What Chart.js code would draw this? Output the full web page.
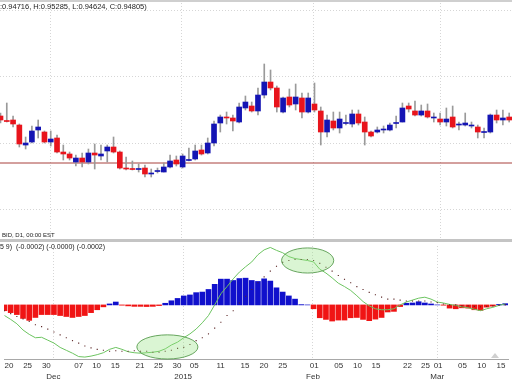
<!DOCTYPE html>
<html>
<head>
<meta charset="utf-8">
<script src="https://cdn.jsdelivr.net/npm/chart.js@4.4.1/dist/chart.umd.min.js"></script>
<style>
    body { margin: 0; background: #fff; }
    #wrap { position: relative; width: 512px; height: 380px; overflow: hidden; font-family: "Liberation Sans", Arial, sans-serif; color: #222; }
    canvas { position: absolute; left: 0; }
    #price-canvas { top: 0; }
    #macd-canvas { top: 242px; }
    .lbl { position: absolute; white-space: pre; line-height: 1; }
    #top-rule { position: absolute; left: 0; top: 0; width: 512px; height: 2px; background: #cfcfcf; }
    #split { position: absolute; left: 0; top: 239px; width: 512px; height: 3px; background: #c4c4c4; }
    #marker { position: absolute; left: 491px; top: 353px; width: 0; height: 0; border-left: 4px solid transparent; border-right: 4px solid transparent; border-bottom: 5px solid #d0d0d0; }
</style>
</head>
<body>
<div id="wrap">
    <canvas id="price-canvas" width="512" height="240"></canvas>
    <canvas id="macd-canvas" width="512" height="138"></canvas>
    <div id="top-rule"></div>
    <div id="split"></div>
    <div id="marker"></div>
    <div class="lbl" style="left:0;top:3px;font-size:7.5px;">:0.94716, H:0.95285, L:0.94624, C:0.94805)</div>
    <div class="lbl" style="left:2px;top:232px;font-size:6px;">BID, D1, 00:00 EST</div>
    <div class="lbl" style="left:0;top:243px;font-size:7px;">5 9)  (-0.0002) (-0.0000) (-0.0002)</div>
</div>
<script>
// daily candles, one per trading day (bar index 0..81)
const opens = [
    0.94818, 0.94682, 0.94697, 0.94545, 0.93939, 0.94030, 0.94394, 0.94333, 0.94030, 0.94152,
    0.93727, 0.93667, 0.93424, 0.93545, 0.93424, 0.93697, 0.93606, 0.93758, 0.93879, 0.93727,
    0.93227, 0.93212, 0.93197, 0.93242, 0.93061, 0.93136, 0.93121, 0.93273, 0.93485, 0.93273,
    0.93470, 0.93515, 0.93788, 0.93697, 0.94000, 0.94606, 0.94788, 0.94758, 0.94636, 0.95061,
    0.95121, 0.94970, 0.95454, 0.95848, 0.95667, 0.94939, 0.95394, 0.95182, 0.95364, 0.94939,
    0.95182, 0.94970, 0.94333, 0.94667, 0.94455, 0.94591, 0.94576, 0.94879, 0.94636, 0.94333,
    0.94333, 0.94394, 0.94394, 0.94591, 0.94636, 0.95121, 0.94970, 0.94848, 0.94970, 0.94758,
    0.94727, 0.94636, 0.94788, 0.94545, 0.94545, 0.94515, 0.94485, 0.94318, 0.94333, 0.94848,
    0.94697, 0.94788
];
const closes = [
    0.94697, 0.94651, 0.94576, 0.93970, 0.94000, 0.94364, 0.94485, 0.94030, 0.94121, 0.93727,
    0.93667, 0.93545, 0.93545, 0.93424, 0.93697, 0.93636, 0.93667, 0.93879, 0.93727, 0.93242,
    0.93212, 0.93197, 0.93227, 0.93061, 0.93091, 0.93152, 0.93273, 0.93455, 0.93364, 0.93606,
    0.93485, 0.93758, 0.93667, 0.94000, 0.94576, 0.94788, 0.94758, 0.94667, 0.95091, 0.95242,
    0.94970, 0.95454, 0.95848, 0.95667, 0.95091, 0.95364, 0.95151, 0.95394, 0.94939, 0.95364,
    0.95000, 0.94333, 0.94697, 0.94455, 0.94727, 0.94606, 0.94879, 0.94606, 0.94333, 0.94212,
    0.94394, 0.94409, 0.94545, 0.94606, 0.95061, 0.95030, 0.94848, 0.94970, 0.94788, 0.94773,
    0.94636, 0.94727, 0.94485, 0.94560, 0.94606, 0.94530, 0.94333, 0.94333, 0.94848, 0.94697,
    0.94758, 0.94697
];
const highs = [
    0.94909, 0.95212, 0.94818, 0.94576, 0.94182, 0.94515, 0.94697, 0.94364, 0.94364, 0.94242,
    0.93939, 0.93727, 0.93636, 0.93697, 0.93818, 0.93970, 0.93939, 0.93939, 0.94182, 0.93758,
    0.93576, 0.93455, 0.93364, 0.93333, 0.93212, 0.93242, 0.93394, 0.93636, 0.93606, 0.93667,
    0.93848, 0.93939, 0.93939, 0.94152, 0.94667, 0.94848, 0.94939, 0.94848, 0.95212, 0.95424,
    0.95242, 0.95667, 0.96394, 0.96212, 0.95727, 0.95394, 0.95636, 0.95788, 0.95515, 0.95515,
    0.95818, 0.95091, 0.94848, 0.94939, 0.94939, 0.94848, 0.95000, 0.95000, 0.94788, 0.94364,
    0.94485, 0.94515, 0.94606, 0.94818, 0.95212, 0.95212, 0.95273, 0.95151, 0.95182, 0.94909,
    0.94909, 0.95061, 0.95121, 0.94636, 0.94909, 0.94636, 0.94545, 0.94455, 0.94879, 0.95000,
    0.95000, 0.94909
];
const lows = [
    0.94606, 0.94636, 0.94485, 0.93879, 0.93818, 0.94000, 0.94152, 0.94000, 0.93909, 0.93697,
    0.93485, 0.93485, 0.93303, 0.93273, 0.93364, 0.93212, 0.93485, 0.93424, 0.93697, 0.93212,
    0.93182, 0.93182, 0.93121, 0.92970, 0.92970, 0.93091, 0.93121, 0.93242, 0.93303, 0.93242,
    0.93455, 0.93485, 0.93636, 0.93667, 0.93909, 0.94333, 0.94576, 0.94364, 0.94606, 0.95000,
    0.94939, 0.94848, 0.95364, 0.95606, 0.94939, 0.94909, 0.95091, 0.95000, 0.94758, 0.94909,
    0.94939, 0.93939, 0.94182, 0.94394, 0.94303, 0.94545, 0.94485, 0.94545, 0.93939, 0.94182,
    0.94303, 0.94303, 0.94364, 0.94455, 0.94636, 0.94939, 0.94818, 0.94818, 0.94758, 0.94636,
    0.94545, 0.94515, 0.94455, 0.94394, 0.94515, 0.94455, 0.94152, 0.94152, 0.94303, 0.94606,
    0.94545, 0.94636
];
const levelPrice = 0.93394;
const priceGrid = [0.92, 0.94, 0.96, 0.98];

// MACD (12 26 9)
const macdHist = [
    -0.00060, -0.00080, -0.00100, -0.00140, -0.00160, -0.00130, -0.00100, -0.00100, -0.00100, -0.00110,
    -0.00120, -0.00130, -0.00120, -0.00110, -0.00080, -0.00050, -0.00020, 0.00010, 0.00030, -0.00003,
    -0.00010, -0.00015, -0.00015, -0.00017, -0.00015, -0.00007, 0.00017, 0.00043, 0.00067, 0.00093,
    0.00103, 0.00127, 0.00133, 0.00160, 0.00213, 0.00267, 0.00267, 0.00253, 0.00273, 0.00277,
    0.00253, 0.00243, 0.00270, 0.00247, 0.00177, 0.00133, 0.00093, 0.00060, 0.00003, 0.00000,
    -0.00040, -0.00133, -0.00150, -0.00167, -0.00157, -0.00157, -0.00133, -0.00130, -0.00150, -0.00163,
    -0.00147, -0.00130, -0.00073, -0.00067, -0.00017, 0.00017, 0.00020, 0.00033, 0.00020, 0.00010,
    0.00000, -0.00003, -0.00033, -0.00040, -0.00030, -0.00033, -0.00050, -0.00057, -0.00023, -0.00013,
    0.00005, 0.00013
];
const macdMain = [
    -0.00110, -0.00150, -0.00195, -0.00260, -0.00305, -0.00340, -0.00335, -0.00365, -0.00395, -0.00440,
    -0.00470, -0.00500, -0.00535, -0.00540, -0.00530, -0.00515, -0.00495, -0.00460, -0.00440, -0.00460,
    -0.00485, -0.00495, -0.00500, -0.00495, -0.00490, -0.00480, -0.00455, -0.00415, -0.00385, -0.00340,
    -0.00300, -0.00250, -0.00185, -0.00110, 0.00000, 0.00115, 0.00190, 0.00270, 0.00340, 0.00395,
    0.00445, 0.00520, 0.00570, 0.00595, 0.00565, 0.00540, 0.00500, 0.00480, 0.00470, 0.00460,
    0.00445, 0.00370, 0.00330, 0.00280, 0.00225, 0.00190, 0.00150, 0.00095, 0.00035, -0.00010,
    -0.00040, -0.00050, -0.00050, -0.00040, 0.00000, 0.00030, 0.00050, 0.00070, 0.00080, 0.00060,
    0.00030, 0.00020, 0.00005, -0.00005, -0.00020, -0.00030, -0.00045, -0.00060, -0.00040, -0.00025,
    -0.00005, 0.00010
];
const macdSignal = [
    -0.00060, -0.00090, -0.00120, -0.00145, -0.00170, -0.00205, -0.00225, -0.00250, -0.00280, -0.00310,
    -0.00340, -0.00370, -0.00395, -0.00425, -0.00445, -0.00460, -0.00470, -0.00480, -0.00475, -0.00480,
    -0.00480, -0.00475, -0.00480, -0.00480, -0.00490, -0.00490, -0.00480, -0.00470, -0.00450, -0.00440,
    -0.00410, -0.00370, -0.00340, -0.00300, -0.00240, -0.00180, -0.00110, -0.00060, 0.00020, 0.00090,
    0.00160, 0.00230, 0.00290, 0.00350, 0.00400, 0.00440, 0.00460, 0.00470, 0.00470, 0.00470,
    0.00460, 0.00430, 0.00390, 0.00350, 0.00305, 0.00265, 0.00230, 0.00190, 0.00160, 0.00130,
    0.00105, 0.00080, 0.00060, 0.00060, 0.00050, 0.00040, 0.00040, 0.00040, 0.00040, 0.00030,
    0.00025, 0.00010, 0.00000, 0.00000, -0.00010, -0.00010, -0.00015, -0.00020, -0.00015, -0.00010,
    -0.00005, 0.00000
];

// date axis (positions in bar-index units)
const dayTicks = [0.72, 3.74, 6.77, 12.0, 14.9, 17.9, 21.9, 24.9, 27.9, 30.7, 34.95, 38.9,
    41.96, 45.0, 50.1, 54.06, 57.1, 60.1, 65.2, 68.1, 70.14, 74.1, 77.2, 80.3];
const dayLabels = ["20", "25", "30", "07", "10", "15", "21", "25", "30", "05", "11", "15",
    "20", "25", "01", "05", "10", "15", "22", "25", "01", "05", "10", "15"];
const monthTicks = [7.9, 28.9, 49.9, 70.0];
const monthLabels = ["Dec", "2015", "Feb", "Mar"];

// circled zones on the MACD panel (centre and radii in data units)
const highlights = [
    {x: 26.35, y: -0.00435, rx: 4.94, ry: 0.00125},
    {x: 49.04, y: 0.0046, rx: 4.22, ry: 0.0013}
];

const xMin = -0.08;
const xMax = 81.45;
const bullColor = "#1414b4";
const bearColor = "#e8141c";
const gridColor = "#d6d6d6";

Chart.defaults.font.family = "'Liberation Sans', Arial, sans-serif";
Chart.defaults.color = "#333";

let idx = opens.map(function(v, i) { return i; });
let candleColors = idx.map(function(i) { return closes[i] >= opens[i] ? bullColor : bearColor; });

function fixedTicks(list) {
    return function(scale) {
        scale.ticks = list.map(function(v) { return {value: v}; });
    };
}

let highlightPlugin = {
    id: "highlights",
    afterDatasetsDraw: function(chart) {
        let ctx = chart.ctx;
        let xs = chart.scales.x;
        let ys = chart.scales.y;
        highlights.forEach(function(h) {
            let cx = xs.getPixelForValue(h.x);
            let cy = ys.getPixelForValue(h.y);
            let rx = Math.abs(xs.getPixelForValue(h.x + h.rx) - cx);
            let ry = Math.abs(ys.getPixelForValue(h.y + h.ry) - cy);
            ctx.save();
            ctx.beginPath();
            ctx.ellipse(cx, cy, rx, ry, 0, 0, Math.PI * 2);
            ctx.fillStyle = "rgba(150, 225, 130, 0.35)";
            ctx.fill();
            ctx.strokeStyle = "rgba(80, 150, 70, 0.85)";
            ctx.lineWidth = 1;
            ctx.stroke();
            ctx.restore();
        });
    }
};

// price panel
new Chart(document.getElementById("price-canvas"), {
    type: "bar",
    data: {
        datasets: [
            {
                data: idx.map(function(i) { return {x: i, y: [opens[i], closes[i]]}; }),
                backgroundColor: candleColors,
                barThickness: 5,
                minBarLength: 1,
                grouped: false,
                order: 1
            },
            {
                data: idx.map(function(i) { return {x: i, y: [lows[i], highs[i]]}; }),
                backgroundColor: "#9a9a9a",
                barThickness: 1,
                grouped: false,
                order: 2
            },
            {
                type: "line",
                data: [{x: xMin, y: levelPrice}, {x: xMax, y: levelPrice}],
                borderColor: "#a8403c",
                borderWidth: 1,
                pointRadius: 0,
                order: 3
            }
        ]
    },
    options: {
        responsive: false,
        animation: false,
        layout: {padding: 0},
        plugins: {legend: {display: false}, tooltip: {enabled: false}},
        scales: {
            x: {
                type: "linear",
                offset: false,
                min: xMin,
                max: xMax,
                afterBuildTicks: fixedTicks(monthTicks),
                ticks: {display: false},
                grid: {color: gridColor, drawTicks: false, offset: false},
                border: {display: false, dash: [1, 2]},
                afterFit: function(s) { s.height = 0; s.paddingLeft = 0; s.paddingRight = 0; }
            },
            y: {
                min: 0.91061,
                max: 0.98333,
                afterBuildTicks: fixedTicks(priceGrid),
                ticks: {display: false},
                grid: {color: gridColor, drawTicks: false},
                border: {display: false, dash: [1, 2]},
                afterFit: function(s) { s.width = 0; }
            }
        }
    }
});

// MACD panel
new Chart(document.getElementById("macd-canvas"), {
    type: "bar",
    data: {
        datasets: [
            {
                type: "line",
                data: idx.map(function(i) { return {x: i, y: macdSignal[i]}; }),
                showLine: false,
                pointStyle: "rect",
                pointRadius: 0.8,
                pointBackgroundColor: "#5a2424",
                pointBorderWidth: 0,
                order: 0
            },
            {
                type: "line",
                data: idx.map(function(i) { return {x: i, y: macdMain[i]}; }),
                borderColor: "#6cc460",
                borderWidth: 1,
                pointRadius: 0,
                order: 1
            },
            {
                data: idx.map(function(i) { return {x: i, y: macdHist[i]}; }),
                backgroundColor: macdHist.map(function(v) { return v >= 0 ? "#1010cc" : "#f01414"; }),
                barThickness: 5,
                grouped: false,
                order: 2
            }
        ]
    },
    options: {
        responsive: false,
        animation: false,
        layout: {padding: 0},
        plugins: {legend: {display: false}, tooltip: {enabled: false}},
        scales: {
            x: {
                type: "linear",
                position: "bottom",
                offset: false,
                weight: 0,
                min: xMin,
                max: xMax,
                afterBuildTicks: fixedTicks(dayTicks),
                ticks: {
                    autoSkip: false,
                    maxRotation: 0,
                    minRotation: 0,
                    padding: 2,
                    font: {size: 8},
                    callback: function(v, i) { return dayLabels[i]; }
                },
                grid: {display: false, drawTicks: false, offset: false},
                border: {display: true, color: "#a8a8a8", width: 1},
                afterFit: function(s) { s.height = 12; s.paddingLeft = 0; s.paddingRight = 0; }
            },
            x2: {
                type: "linear",
                position: "bottom",
                offset: false,
                weight: 1,
                min: xMin,
                max: xMax,
                afterBuildTicks: fixedTicks(monthTicks),
                ticks: {
                    autoSkip: false,
                    maxRotation: 0,
                    minRotation: 0,
                    padding: 1,
                    font: {size: 8},
                    callback: function(v, i) { return monthLabels[i]; }
                },
                grid: {color: gridColor, drawTicks: false, offset: false},
                border: {display: false, dash: [1, 2]},
                afterFit: function(s) { s.height = 9; s.paddingLeft = 0; s.paddingRight = 0; }
            },
            y: {
                display: false,
                min: -0.0056,
                max: 0.0061
            }
        }
    },
    plugins: [highlightPlugin]
});
</script>
</body>
</html>
